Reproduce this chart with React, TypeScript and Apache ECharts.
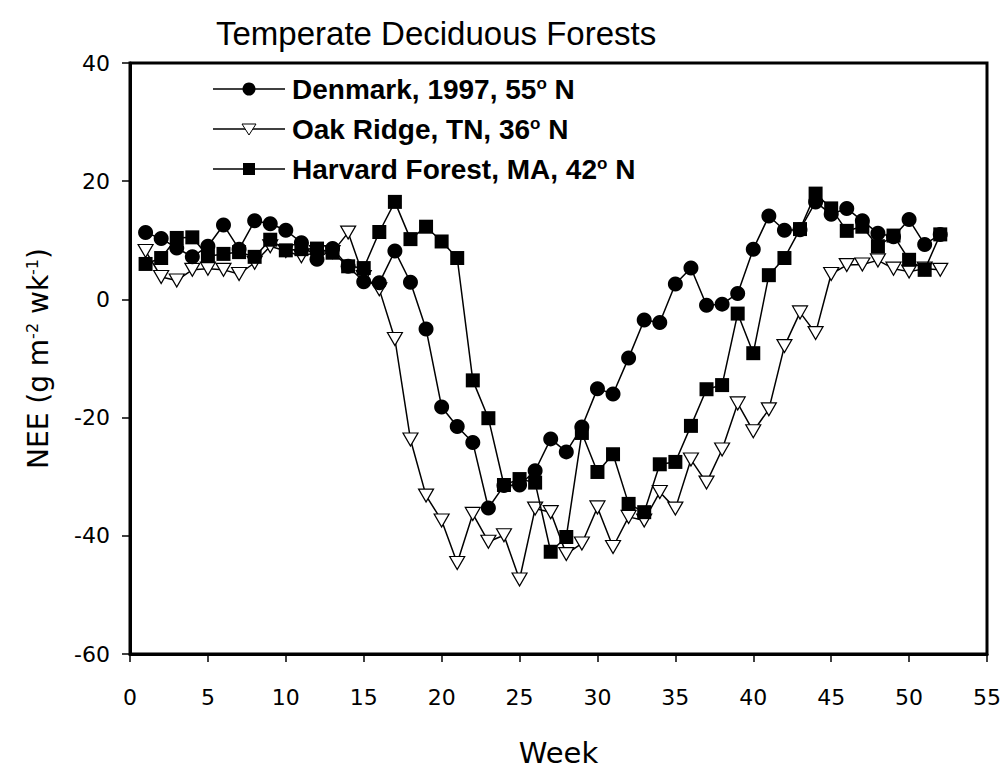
import React, { useEffect, useRef } from "react";
import * as echarts from "echarts";

const weeks = [1,2,3,4,5,6,7,8,9,10,11,12,13,14,15,16,17,18,19,20,21,22,23,24,25,26,27,28,29,30,31,32,33,34,35,36,37,38,39,40,41,42,43,44,45,46,47,48,49,50,51,52];

const denmark = [11.3,10.3,8.7,7.2,9.0,12.6,8.5,13.3,12.8,11.7,9.6,6.8,8.6,5.6,3.0,2.8,8.2,2.9,-5.0,-18.2,-21.5,-24.2,-35.3,-31.5,-31.4,-29.0,-23.6,-25.8,-21.6,-15.1,-16.0,-9.9,-3.5,-3.9,2.6,5.3,-1.0,-0.8,1.0,8.5,14.1,11.7,11.8,16.5,14.4,15.4,13.3,11.2,10.6,13.5,9.3,11.0];

const oakRidge = [8.2,3.8,3.2,5.0,5.2,5.0,4.3,6.2,9.0,8.2,7.3,8.0,8.0,11.3,3.8,1.7,-6.7,-23.7,-33.2,-37.4,-44.6,-36.3,-41.0,-39.9,-47.4,-35.4,-36.0,-43.1,-41.3,-35.2,-41.9,-36.8,-37.4,-32.6,-35.4,-27.1,-31.0,-25.4,-17.6,-22.3,-18.6,-7.9,-2.2,-5.7,4.3,5.8,5.9,6.6,5.2,4.7,5.2,5.0];

const harvard = [6.0,7.0,10.4,10.5,7.3,7.7,8.0,7.2,10.1,8.3,8.5,8.6,7.9,5.6,5.3,11.4,16.5,10.2,12.3,9.8,7.0,-13.7,-20.1,-31.4,-30.4,-31.0,-42.7,-40.2,-22.6,-29.2,-26.2,-34.6,-36.0,-27.9,-27.5,-21.4,-15.2,-14.5,-2.4,-9.1,4.1,7.0,11.9,17.9,15.4,11.6,12.3,9.0,10.8,6.7,5.0,11.0];

const legendNames = ["Denmark, 1997, 55", "Oak Ridge, TN, 36", "Harvard Forest, MA, 42"];
const titleText = "Temperate Deciduous Forests";

const pairs = (vals: number[]) => weeks.map((w, i) => [w, vals[i]]);

export default function App() {
  const ref = useRef<HTMLDivElement>(null);
  useEffect(() => {
    const chart = echarts.init(ref.current!, null, { renderer: "svg" });
    const legendGraphics: any[] = [];
    const rowY = [89, 129, 169];
    rowY.forEach((cy, i) => {
      legendGraphics.push({ type: "line", shape: { x1: 213, y1: cy, x2: 285, y2: cy }, style: { stroke: "#000", lineWidth: 1.5 } });
      if (i === 0) legendGraphics.push({ type: "circle", shape: { cx: 249, cy, r: 6.5 }, style: { fill: "#000" } });
      if (i === 1) legendGraphics.push({ type: "polygon", shape: { points: [[242, cy - 5], [256, cy - 5], [249, cy + 6]] }, style: { fill: "#fff", stroke: "#000", lineWidth: 1 } });
      if (i === 2) legendGraphics.push({ type: "rect", shape: { x: 243, y: cy - 6, width: 12, height: 12 }, style: { fill: "#000" } });
      legendGraphics.push({
        type: "text", x: 292, y: cy,
        style: {
          text: "{a|" + legendNames[i] + "}{s|o}{a| N}",
          verticalAlign: "middle",
          rich: {
            a: { fontSize: 28, fontWeight: "bold", fontFamily: "Liberation Sans", fill: "#000" },
            s: { fontSize: 17, fontWeight: "bold", fontFamily: "Liberation Sans", fill: "#000", verticalAlign: "top", padding: [0, 0, 10, 0] }
          }
        }
      });
    });

    chart.setOption({
      animation: false,
      backgroundColor: "#fff",
      title: {
        text: titleText, left: 211, top: 12,
        textStyle: { fontFamily: "Liberation Sans", fontSize: 33, fontWeight: "normal", color: "#000" }
      },
      grid: { left: 130, right: 19, top: 63, bottom: 112, show: true, borderColor: "#000", borderWidth: 3 },
      xAxis: {
        type: "value", min: 0, max: 55, interval: 5,
        name: "Week", nameLocation: "middle", nameGap: 84,
        nameTextStyle: { fontFamily: "DejaVu Sans", fontSize: 29, color: "#000" },
        axisLine: { show: true, onZero: false, lineStyle: { color: "#000", width: 3 } },
        axisTick: { show: true, length: 8, lineStyle: { color: "#000", width: 1.5 } },
        axisLabel: { margin: 32, fontFamily: "DejaVu Sans", fontSize: 22, color: "#000" },
        splitLine: { show: false }
      },
      yAxis: {
        type: "value", min: -60, max: 40, interval: 20,
        name: "{a|NEE (g m}{s|-2}{a| wk}{s|-1}{a|)}", nameLocation: "middle", nameGap: 78,
        nameTextStyle: {
          rich: {
            a: { fontFamily: "DejaVu Sans", fontSize: 28, color: "#000" },
            s: { fontFamily: "DejaVu Sans", fontSize: 16, color: "#000", verticalAlign: "top", padding: [0, 0, 10, 0] }
          }
        },
        axisLine: { show: true, onZero: false, lineStyle: { color: "#000", width: 3 } },
        axisTick: { show: true, length: 8, lineStyle: { color: "#000", width: 1.5 } },
        axisLabel: { margin: 20, fontFamily: "DejaVu Sans", fontSize: 22, color: "#000" },
        splitLine: { show: false }
      },
      graphic: legendGraphics,
      series: [
        {
          name: "Oak Ridge", type: "line", data: pairs(oakRidge), symbol: "triangle", symbolRotate: 180, symbolSize: [15, 13],
          lineStyle: { color: "#000", width: 1.5 }, itemStyle: { color: "#fff", borderColor: "#000", borderWidth: 1.2 }, z: 2
        },
        {
          name: "Denmark", type: "line", data: pairs(denmark), symbol: "circle", symbolSize: 15,
          lineStyle: { color: "#000", width: 1.5 }, itemStyle: { color: "#000", borderColor: "#000", borderWidth: 0 }, z: 3
        },
        {
          name: "Harvard", type: "line", data: pairs(harvard), symbol: "rect", symbolSize: 14,
          lineStyle: { color: "#000", width: 1.5 }, itemStyle: { color: "#000", borderColor: "#000", borderWidth: 0 }, z: 4
        }
      ]
    });
    return () => chart.dispose();
  }, []);
  return <div ref={ref} style={{ width: 1006, height: 772, position: "absolute", left: 0, top: 0 }} />;
}
